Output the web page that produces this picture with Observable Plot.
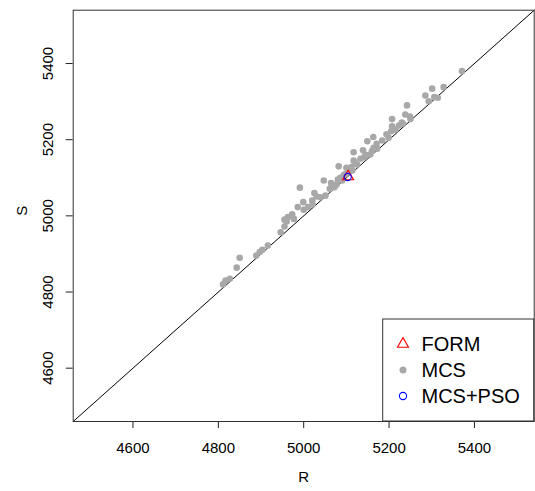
<!DOCTYPE html>
<html>
<head>
<meta charset="utf-8">
<script src="https://cdn.jsdelivr.net/npm/d3@7"></script>
<script src="https://cdn.jsdelivr.net/npm/@observablehq/plot@0.6"></script>
<style>
  html, body { margin: 0; padding: 0; background: #fff; }
  svg { display: block; }
</style>
</head>
<body>
<div id="chart"></div>
<script>
// ---- data ----
const axisDomain = [4460, 5540];
const xTicks = [4600, 4800, 5000, 5200, 5400];
const yTicks = [4600, 4800, 5000, 5200, 5400];

const mcsR = [4811,4817,4827,4843,4850,4889,4897,4903,4916,4946,4955,4955,4963,4973,4977,4991,4986,4999,5000,5010,5021,5025,5030,5039,5047,5051,5061,5064,5072,5077,5082,5086,5090,5100,5106,5114,5117,5117,5125,5133,5139,5142,5149,5156,5163,5164,5171,5172,5184,5194,5199,5207,5207,5215,5223,5233,5238,5242,5249,5250,5285,5293,5301,5306,5314,5328,5371,5094,5098,5066,5120,5160,5205,5230,5145,5020,4960,5080,5112];
const mcsS = [4820,4830,4835,4864,4890,4896,4905,4911,4922,4957,4972,4990,4997,5004,4992,5074,5023,5036,5016,5023,5030,5060,5051,5049,5093,5053,5071,5086,5075,5082,5130,5100,5093,5126,5115,5119,5167,5145,5135,5150,5172,5154,5196,5161,5207,5179,5189,5176,5198,5214,5205,5254,5235,5226,5237,5242,5266,5290,5261,5254,5316,5301,5334,5312,5310,5338,5380,5107,5110,5080,5140,5170,5222,5245,5160,5040,4985,5095,5128];

const formR = [5104];
const formS = [5103];
const psoR = [5103];
const psoS = [5102];

const legendLabels = ["FORM", "MCS", "MCS+PSO"];
const xLabel = "R";
const yLabel = "S";

// ---- build tables ----
const mcs = mcsR.map((r, i) => ({R: r, S: mcsS[i]}));
const form = formR.map((r, i) => ({R: r, S: formS[i]}));
const pso = psoR.map((r, i) => ({R: r, S: psoS[i]}));
const diag = axisDomain.map(v => ({R: v, S: v})); // abline(0, 1)

const font = "'Liberation Sans', Arial, Helvetica, sans-serif";
const W = 535, H = 491;
const mL = 72.7, mR = 1.3, mT = 9.7, mB = 70;

const svg = Plot.plot({
  width: W,
  height: H,
  marginLeft: mL,
  marginRight: mR,
  marginTop: mT,
  marginBottom: mB,
  style: {fontFamily: font, fontSize: "15px", color: "#000", background: "#fff"},
  x: {domain: axisDomain},
  y: {domain: axisDomain},
  marks: [
    Plot.axisX({ticks: xTicks, tickSize: 7, tickPadding: 14, fontSize: 15, label: null, stroke: "#222", tickFormat: d => String(d)}),
    Plot.axisY({ticks: yTicks, tickSize: 7, tickFormat: () => "", label: null, stroke: "#222"}),
    Plot.text(yTicks, {y: d => d, text: d => String(d), frameAnchor: "left", dx: -25, rotate: -90, textAnchor: "middle", fontSize: 15, fill: "#000"}),
    Plot.text([xLabel], {text: d => d, frameAnchor: "bottom", dy: 60, fontSize: 15, fill: "#000"}),
    Plot.text([yLabel], {text: d => d, frameAnchor: "left", dx: -51, rotate: -90, fontSize: 15, fill: "#000"}),
    Plot.line(diag, {x: "R", y: "S", stroke: "#000", strokeWidth: 1}),
    Plot.dot(mcs, {x: "R", y: "S", r: 3.3, fill: "#a8a8a8", stroke: "none"}),
    Plot.dot(form, {x: "R", y: "S", symbol: "triangle", r: 4.1, fill: "none", stroke: "#ff0000", strokeWidth: 1.1}),
    Plot.dot(pso, {x: "R", y: "S", r: 3.6, fill: "none", stroke: "#0000ff", strokeWidth: 1.1}),
    Plot.frame({stroke: "#333", strokeWidth: 1})
  ]
});

// ---- legend (R-style box in bottom-right corner) ----
const g = d3.select(svg).append("g").attr("font-family", font).attr("text-anchor", "start");
const bx = 382.7, by = 319, bw = W - mR - bx, bh = (H - mB) - by;
g.append("rect").attr("x", bx).attr("y", by).attr("width", bw).attr("height", bh)
  .attr("fill", "#fff").attr("stroke", "#333").attr("stroke-width", 1);
const rowY = [344, 370, 396];
const symX = 403;
const tri = d3.symbol(d3.symbolTriangle, 4.1 * 4.1 * Math.PI)();
g.append("path").attr("d", tri).attr("transform", `translate(${symX},${rowY[0]})`)
  .attr("fill", "none").attr("stroke", "#ff0000").attr("stroke-width", 1.1);
g.append("circle").attr("cx", symX).attr("cy", rowY[1]).attr("r", 3.5).attr("fill", "#a8a8a8");
g.append("circle").attr("cx", symX).attr("cy", rowY[2]).attr("r", 3.6)
  .attr("fill", "none").attr("stroke", "#0000ff").attr("stroke-width", 1.1);
legendLabels.forEach((t, i) => {
  g.append("text").attr("x", 421.5).attr("y", rowY[i]).attr("dy", "0.36em")
    .attr("text-anchor", "start").attr("font-size", 20).attr("fill", "#000").text(t);
});

document.getElementById("chart").appendChild(svg);
</script>
</body>
</html>
